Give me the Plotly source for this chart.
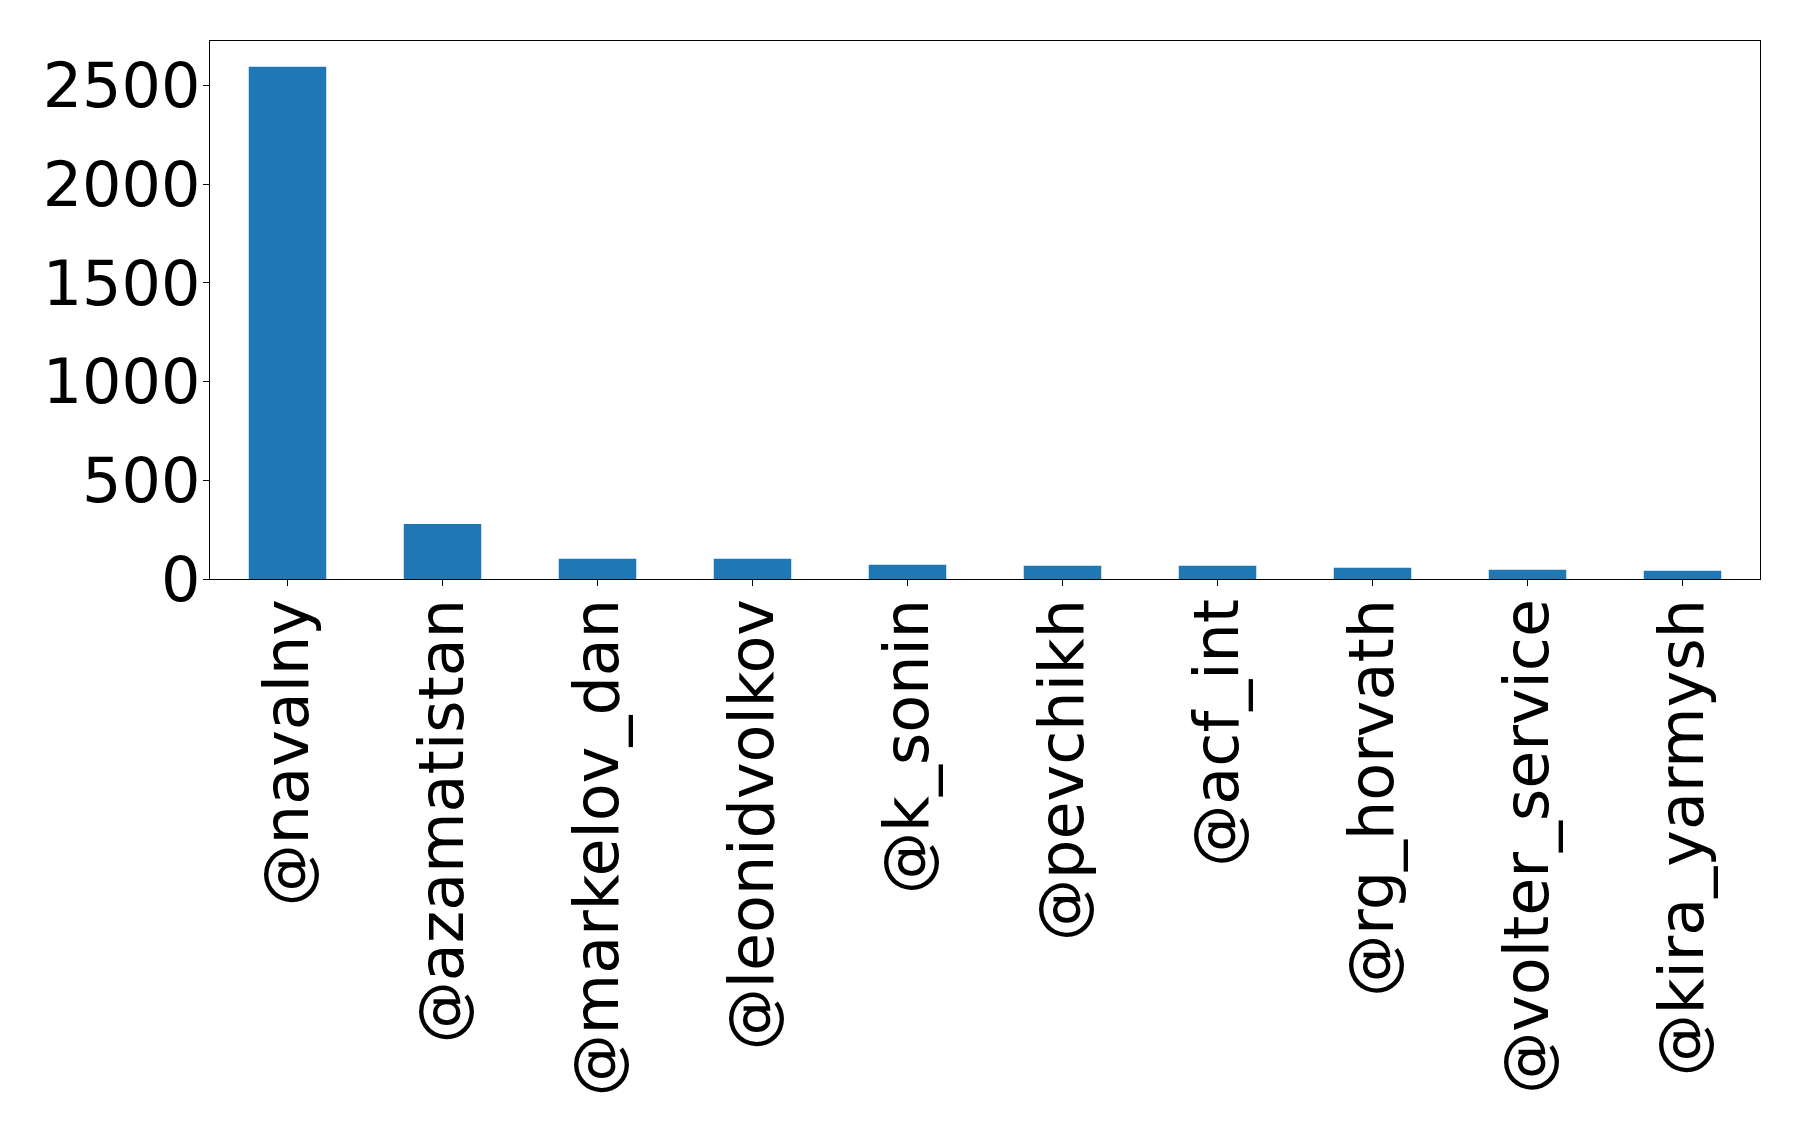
import plotly.graph_objects as go

users = ['@navalny', '@azamatistan', '@markelov_dan', '@leonidvolkov', '@k_sonin',
         '@pevchikh', '@acf_int', '@rg_horvath', '@volter_service', '@kira_yarmysh']
counts = [2596, 279, 103, 103, 72, 67, 67, 57, 47, 42]
y_ticks = [0, 500, 1000, 1500, 2000, 2500]

fig = go.Figure(go.Bar(x=users, y=counts, marker_color='#1f77b4',
                       marker_line_width=0, width=0.5))

axis_font = dict(family='DejaVu Sans', size=62, color='black')
fig.update_layout(
    width=1798, height=1129,
    margin=dict(l=202, r=46, t=33, b=558),
    paper_bgcolor='white', plot_bgcolor='white',
    showlegend=False,
)
fig.update_xaxes(
    range=[-0.5, 9.5], tickangle=-90, tickfont=axis_font,
    showline=True, linecolor='black', linewidth=1.3, mirror=True,
    ticks='outside', ticklen=6, tickwidth=1.2, tickcolor='black',
    showgrid=False, ticklabelstandoff=-12,
)
fig.update_yaxes(
    range=[0, 2726], tickvals=y_ticks, tickfont=axis_font,
    showline=True, linecolor='black', linewidth=1.3, mirror=True,
    ticks='outside', ticklen=6, tickwidth=1.2, tickcolor='black',
    showgrid=False, zeroline=False, ticklabelstandoff=-10,
)

fig.write_html("out.html")
